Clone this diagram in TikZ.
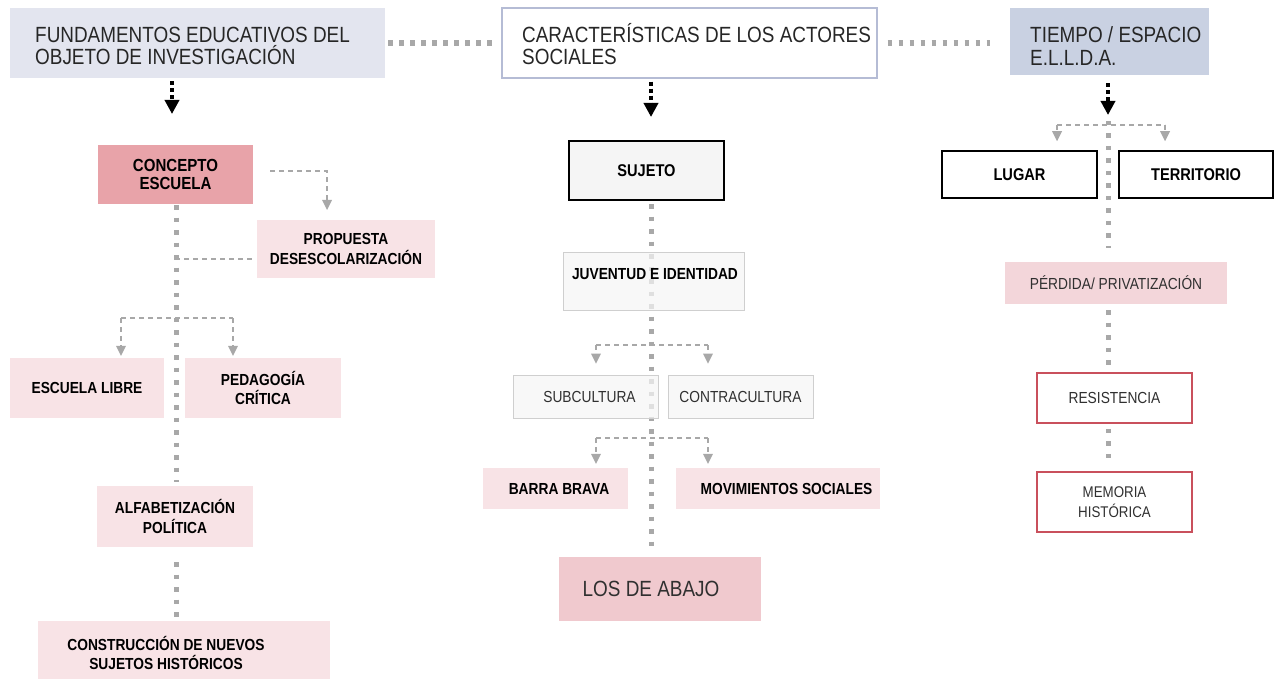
\documentclass[tikz,border=0pt]{standalone}
\usepackage{fontspec}
\setmainfont{Liberation Sans}[FakeStretch=0.86]
\usetikzlibrary{arrows.meta}
\pgfdeclarelayer{bg}
\pgfsetlayers{bg,main}
\definecolor{hdrA}{HTML}{E3E5EF}
\definecolor{hdrB}{HTML}{B5BCD5}
\definecolor{hdrC}{HTML}{C9D1E2}
\definecolor{txt}{HTML}{303030}
\definecolor{htxt}{HTML}{262626}
\definecolor{pinkD}{HTML}{E8A3A9}
\definecolor{pinkL}{HTML}{F8E3E6}
\definecolor{pinkM}{HTML}{F0C9CE}
\definecolor{pinkP}{HTML}{F3D6DA}
\definecolor{grayF}{HTML}{F5F5F5}
\definecolor{grayB}{HTML}{CFCFCF}
\definecolor{redB}{HTML}{C9505C}
\definecolor{dotG}{HTML}{A8A8A8}
\newcommand\mytightls{\lineskiplimit -50pt\relax}
\begin{document}
\begin{tikzpicture}[x=1pt,y=-1pt,
  bx/.style={inner sep=0pt, align=center, text=black, font=\bfseries\fontsize{16}{19.5}\selectfont},
  bigbx/.style={bx, font=\bfseries\fontsize{17}{19}\selectfont},
  pinkbox/.style={bx, fill=pinkL},
  graybox/.style={bx, fill=grayF, fill opacity=0.72, text opacity=1, draw=grayB, line width=0.8pt},
  regtxt/.style={font=\fontsize{16}{19.5}\selectfont, text=txt},
  hdrtxt/.style={inner sep=0pt, anchor=west, align=left, text=htxt, font=\fontsize{22}{22.7}\selectfont\mytightls},
  hdot/.style={draw=dotG, line width=5.5pt, dash pattern=on 4.5pt off 6.5pt},
  vdot/.style={draw=dotG, line width=5pt, dash pattern=on 4.5pt off 8pt},
  dsh/.style={draw=dotG, line width=1.5pt, dash pattern=on 5pt off 4pt},
  gtip/.style={-{Triangle[width=10pt,length=10pt,fill=dotG,line width=0pt]}},
  harr/.style={draw=black, line width=3.5pt, dash pattern=on 4pt off 3pt, -{Triangle[width=14pt,length=14pt]}}
]
\useasboundingbox (0,0) rectangle (1280,679);

% headers
\node[fill=hdrA, minimum width=375pt, minimum height=70pt, inner sep=0pt] (h1) at (197.5,43) {};
\node[hdrtxt] (h1t) at (35,46) {FUNDAMENTOS EDUCATIVOS DEL\\OBJETO DE INVESTIGACIÓN};
\node[fill=white, draw=hdrB, line width=1.2pt, minimum width=375pt, minimum height=70pt, inner sep=0pt] (h2) at (689.5,43) {};
\node[hdrtxt] (h2t) at (522,44) {CARACTERÍSTICAS DE LOS ACTORES\\SOCIALES};
\node[fill=hdrC, minimum width=199pt, minimum height=67pt, inner sep=0pt] (h3) at (1109.5,41.5) {};
\node[hdrtxt] (h3t) at (1030,46) {TIEMPO / ESPACIO\\E.L.L.D.A.};

% left column
\node[bx, fill=pinkD, minimum width=155pt, minimum height=59pt, font=\bfseries\fontsize{17.5}{18.5}\selectfont] (concepto) at (175.5,174.5) {CONCEPTO\\ESCUELA};
\node[pinkbox, minimum width=178pt, minimum height=58pt] (propuesta) at (346,249) {PROPUESTA\\DESESCOLARIZACIÓN};
\node[pinkbox, minimum width=154pt, minimum height=60pt] (escuela) at (87,388) {ESCUELA LIBRE};
\node[pinkbox, minimum width=156pt, minimum height=60pt] (pedagogia) at (263,388) {PEDAGOGÍA\\CRÍTICA};
\node[pinkbox, minimum width=156pt, minimum height=61pt] (alfa) at (175,516.5) {ALFABETIZACIÓN\\POLÍTICA};
\node[pinkbox, minimum width=292pt, minimum height=58pt] (constr) at (184,650) {};
\node[bx] (constrt) at (166,653) {CONSTRUCCIÓN DE NUEVOS\\SUJETOS HISTÓRICOS};

% middle column
\node[bigbx, fill=grayF, draw=black, line width=2.2pt, minimum width=155pt, minimum height=59pt] (sujeto) at (646.5,170.5) {SUJETO};
\node[graybox, minimum width=181pt, minimum height=58pt] (juventud) at (653.5,281) {};
\node[bx] (juventudt) at (655,274) {JUVENTUD E IDENTIDAD};
\node[graybox, regtxt, minimum width=145pt, minimum height=43pt] (subcultura) at (585.5,396.5) {};
\node[regtxt, inner sep=0pt] (subculturat) at (589.5,396.5) {SUBCULTURA};
\node[graybox, regtxt, minimum width=145pt, minimum height=43pt] (contracultura) at (740.5,396.5) {CONTRACULTURA};
\node[pinkbox, minimum width=145pt, minimum height=41pt] (barra) at (555.5,488.5) {};
\node[bx] (barrat) at (559,488.5) {BARRA BRAVA};
\node[pinkbox, minimum width=204pt, minimum height=41pt] (movim) at (778,488.5) {};
\node[bx] (movimt) at (786.5,488.5) {MOVIMIENTOS SOCIALES};
\node[fill=pinkM, minimum width=202pt, minimum height=64pt, inner sep=0pt] (abajo) at (660,589) {};
\node[inner sep=0pt, text=txt, font=\fontsize{22}{24}\selectfont] (abajot) at (651,589) {LOS DE ABAJO};

% right column
\node[bigbx, fill=white, draw=black, line width=1.5pt, minimum width=155pt, minimum height=47pt] (lugar) at (1019.5,174.5) {LUGAR};
\node[bigbx, fill=white, draw=black, line width=1.5pt, minimum width=154pt, minimum height=47pt] (territorio) at (1196,174.5) {TERRITORIO};
\node[bx, regtxt, fill=pinkP, minimum width=222pt, minimum height=42pt] (perdida) at (1116,283) {PÉRDIDA/ PRIVATIZACIÓN};
\node[bx, regtxt, fill=white, draw=redB, line width=1.5pt, minimum width=155pt, minimum height=50pt] (resistencia) at (1114.5,398) {RESISTENCIA};
\node[bx, regtxt, fill=white, draw=redB, line width=1.5pt, minimum width=155pt, minimum height=60pt, font=\fontsize{15.5}{20}\selectfont] (memoria) at (1114.5,502) {MEMORIA\\HISTÓRICA};

% coordinates
\coordinate (a1) at (172,114);
\coordinate (a2) at (651,117);
\coordinate (a3) at (1108,115);
\coordinate (lx) at (176,0);
\coordinate (mx) at (651,0);
\coordinate (rx) at (1108,0);
\coordinate (pa) at (327,210);
\coordinate (bl1) at (121,318);
\coordinate (bl2) at (233,318);
\coordinate (m1l) at (596,345);
\coordinate (m1r) at (708,345);
\coordinate (m2l) at (596,438);
\coordinate (m2r) at (708,438);
\coordinate (r1l) at (1057,125);
\coordinate (r1r) at (1165,125);
\coordinate (rtop) at (1108,121);

\begin{pgfonlayer}{bg}
% header links
\draw[hdot, shorten <=3pt, shorten >=9pt] (h1.east) -- (h1.east -| h2.west);
\draw[hdot, shorten <=10pt, shorten >=20pt] (h2.east) -- (h2.east -| h3.west);
% header arrows
\draw[harr] ([yshift=-3pt]h1.south -| a1) -- (a1);
\draw[harr] ([yshift=-3pt]h2.south -| a2) -- (a2);
\draw[harr] ([yshift=-8pt]h3.south -| a3) -- (a3);
% left
\draw[vdot, shorten >=4pt] ([yshift=-1pt]concepto.south -| lx) -- (alfa.north -| lx);
\draw[vdot, shorten <=15pt, shorten >=4pt] (alfa.south -| lx) -- (constr.north -| lx);
\draw[dsh, gtip] ([xshift=17pt,yshift=3.5pt]concepto.east) -| (pa);
\draw[dsh, shorten <=5pt] ([yshift=-10pt]propuesta.west) -- ([yshift=-10pt]propuesta.west -| lx);
\draw[dsh] (bl1) -- (bl2);
\draw[dsh, gtip, shorten >=2pt] (bl1) -- (escuela.north -| bl1);
\draw[dsh, gtip, shorten >=2pt] (bl2) -- (pedagogia.north -| bl2);
% middle
\draw[vdot, shorten >=11pt] ([yshift=-3pt]sujeto.south -| mx) -- (abajo.north -| mx);
\draw[dsh] (m1l) -- (m1r);
\draw[dsh, gtip, shorten >=11pt] (m1l) -- (subcultura.north -| m1l);
\draw[dsh, gtip, shorten >=11pt] (m1r) -- (contracultura.north -| m1r);
\draw[dsh] (m2l) -- (m2r);
\draw[dsh, gtip, shorten >=4pt] (m2l) -- (barra.north -| m2l);
\draw[dsh, gtip, shorten >=4pt] (m2r) -- (movim.north -| m2r);
% right
\draw[dsh] (r1l) -- (r1r);
\draw[dsh, gtip, shorten >=9pt] (r1l) -- (lugar.north -| r1l);
\draw[dsh, gtip, shorten >=9pt] (r1r) -- (territorio.north -| r1r);
\draw[vdot, shorten >=14pt] (rtop) -- (perdida.north -| rx);
\draw[vdot, shorten <=6pt, shorten >=7pt] (perdida.south -| rx) -- (resistencia.north -| rx);
\draw[vdot, shorten <=5pt, shorten >=7pt] (resistencia.south -| rx) -- (memoria.north -| rx);
\end{pgfonlayer}
\end{tikzpicture}
\end{document}
